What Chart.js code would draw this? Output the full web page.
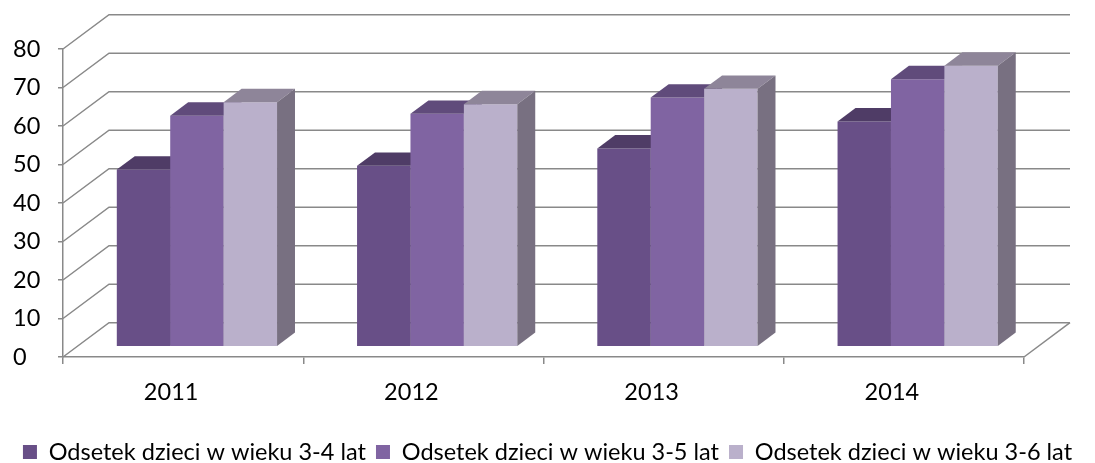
<!DOCTYPE html>
<html lang="pl">
<head>
  <meta charset="UTF-8">
  <title>Odsetek dzieci objętych wychowaniem przedszkolnym</title>
  <script src="https://cdn.jsdelivr.net/npm/chart.js"></script>
  <style>
    html, body {
      margin: 0;
      padding: 0;
      background: #fff;
    }
    #wrap {
      width: 1095px;
      height: 463px;
    }
  </style>
</head>
<body>
  <div id="wrap"><canvas id="wykres"></canvas></div>

  <script>
    // dane
    const lata = ['2011', '2012', '2013', '2014'];
    const wiek34 = [46, 47, 51.5, 58.5];
    const wiek35 = [60, 60.5, 64.7, 69.5];
    const wiek36 = [63.5, 63, 67, 73];
    const osY = [0, 10, 20, 30, 40, 50, 60, 70, 80];

    // glebokosc "podlogi" 3D i polozenie slupkow w tej glebokosci
    const DX = 46, DY = -34.3;
    const BAR_FRONT = 0.3, BAR_DEPTH = 0.39;
    const GRID = '#898989';
    const czcionka = { family: 'Lato, sans-serif', size: 23.5 };

    const efekt3d = {
      id: 'efekt3d',
      beforeDatasetsDraw(chart) {
        const { ctx, chartArea: a, scales: { y } } = chart;

        // sciana tylna i boczna
        ctx.save();
        ctx.strokeStyle = GRID;
        ctx.lineWidth = 1.5;
        y.ticks.forEach(t => {
          const py = y.getPixelForValue(t.value);
          ctx.beginPath();
          ctx.moveTo(a.left, py);
          ctx.lineTo(a.left + DX, py + DY);
          ctx.lineTo(a.right + DX, py + DY);
          ctx.stroke();
        });
        ctx.beginPath();
        ctx.moveTo(a.right, a.bottom);
        ctx.lineTo(a.right + DX, a.bottom + DY);
        ctx.stroke();
        ctx.restore();

        // slupki: przod rysuje Chart.js, gora i bok dorysowane
        const bx = DX * BAR_DEPTH, by = DY * BAR_DEPTH;
        ctx.save();
        ctx.translate(DX * BAR_FRONT, DY * BAR_FRONT);
        lata.forEach((_, i) => {
          chart.data.datasets.forEach((ds, d) => {
            const bar = chart.getDatasetMeta(d).data[i];
            const p = bar.getProps(['x', 'y', 'base', 'width'], true);
            const l = p.x - p.width / 2, r = p.x + p.width / 2;
            bar.draw(ctx);

            ctx.fillStyle = ds.topColor;
            ctx.beginPath();
            ctx.moveTo(l, p.y);
            ctx.lineTo(l + bx, p.y + by);
            ctx.lineTo(r + bx, p.y + by);
            ctx.lineTo(r, p.y);
            ctx.closePath();
            ctx.fill();

            ctx.fillStyle = ds.sideColor;
            ctx.beginPath();
            ctx.moveTo(r, p.y);
            ctx.lineTo(r + bx, p.y + by);
            ctx.lineTo(r + bx, p.base + by);
            ctx.lineTo(r, p.base);
            ctx.closePath();
            ctx.fill();
          });
        });
        ctx.restore();
        return false;
      }
    };

    // puste osie, ktore robia tylko margines (legenda dostaje cala szerokosc)
    const margines = (pos, w) => ({
      type: 'linear',
      position: pos,
      weight: 1,
      grid: { display: false },
      border: { display: false },
      ticks: { display: false },
      afterFit: s => { s.width = w; }
    });

    new Chart(document.getElementById('wykres'), {
      type: 'bar',
      data: {
        labels: lata,
        datasets: [
          {
            label: 'Odsetek dzieci w wieku 3-4 lat',
            data: wiek34,
            backgroundColor: '#684f87',
            topColor: '#4f3c66',
            sideColor: '#4f3c66'
          },
          {
            label: 'Odsetek dzieci w wieku 3-5 lat',
            data: wiek35,
            backgroundColor: '#8064a2',
            topColor: '#604b7b',
            sideColor: '#604b7b'
          },
          {
            label: 'Odsetek dzieci w wieku 3-6 lat',
            data: wiek36,
            backgroundColor: '#bab0cb',
            topColor: '#8e8599',
            sideColor: '#787081'
          }
        ]
      },
      options: {
        responsive: true,
        maintainAspectRatio: false,
        animation: false,
        borderWidth: 0,
        categoryPercentage: 0.667,
        barPercentage: 1,
        layout: { padding: { top: 49, right: 0, left: 0, bottom: -10.75 } },
        plugins: {
          tooltip: { enabled: false },
          legend: {
            position: 'bottom',
            labels: {
              font: czcionka,
              color: '#000',
              boxWidth: 14,
              boxHeight: 14,
              padding: 10
            }
          }
        },
        scales: {
          x: {
            grid: { drawOnChartArea: false, tickLength: 7, color: GRID, lineWidth: 1.5 },
            border: { color: GRID, width: 1.5 },
            ticks: { font: czcionka, color: '#000', padding: 14.5, labelOffset: -12 },
            afterFit: s => { s.height = 73.25; }
          },
          y: {
            min: 0,
            max: 80,
            afterBuildTicks: s => { s.ticks = osY.map(v => ({ value: v })); },
            grid: { drawOnChartArea: false, tickLength: 5, color: GRID, lineWidth: 1.5 },
            border: { color: GRID, width: 1.5 },
            ticks: { font: czcionka, color: '#000', crossAlign: 'far' },
            afterFit: s => { s.width = 50; }
          },
          lewy: margines('left', 13),
          prawy: margines('right', 71)
        }
      },
      plugins: [efekt3d]
    });
  </script>
</body>
</html>
